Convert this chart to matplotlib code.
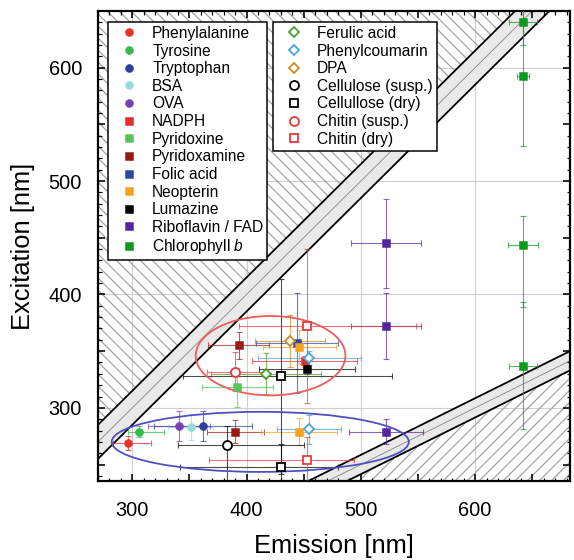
import matplotlib.pyplot as plt
import numpy as np
from matplotlib.lines import Line2D
from matplotlib.patches import Ellipse
from matplotlib.ticker import MultipleLocator, FuncFormatter

plt.rcParams['font.family'] = ['Liberation Sans', 'DejaVu Sans']
plt.rcParams['mathtext.fontset'] = 'custom'
plt.rcParams['mathtext.rm'] = 'Liberation Sans'
plt.rcParams['mathtext.it'] = 'Liberation Sans:italic'
plt.rcParams['hatch.color'] = '#a6a6a6'
plt.rcParams['hatch.linewidth'] = 1.3

# emission / excitation maxima [nm], error bars as (lower, upper)
phe_em = [296]
phe_ex = [269]
phe_dem = [(13, 20)]
phe_dex = [(6, 6)]

tyr_em = [306]
tyr_ex = [279]
tyr_dem = [(10, 22)]
tyr_dex = [(5, 5)]

trp_em = [362]
trp_ex = [284]
trp_dem = [(43, 43)]
trp_dex = [(13, 13)]

bsa_em = [351]
bsa_ex = [283]
bsa_dem = [(20, 20)]
bsa_dex = [(11, 11)]

ova_em = [341]
ova_ex = [284]
ova_dem = [(27, 27)]
ova_dex = [(13, 13)]

nadph_em = [451]
nadph_ex = [341]
nadph_dem = [(46, 46)]
nadph_dex = [(5, 5)]

pyrdx_em = [392]
pyrdx_ex = [318]
pyrdx_dem = [(31, 31)]
pyrdx_dex = [(17, 17)]

pyram_em = [393, 390]
pyram_ex = [355, 279]
pyram_dem = [(27, 27), (25, 25)]
pyram_dex = [(12, 12), (10, 10)]

folic_em = [444]
folic_ex = [357]
folic_dem = [(36, 36)]
folic_dex = [(44, 44)]

neo_em = [446, 446]
neo_ex = [354, 279]
neo_dem = [(32, 32), (33, 33)]
neo_dex = [(15, 15), (12, 12)]

lum_em = [453]
lum_ex = [334]
lum_dem = [(42, 42)]
lum_dex = [(4, 4)]

ribo_em = [522, 522, 522]
ribo_ex = [445, 372, 279]
ribo_dem = [(31, 31), (31, 31), (32, 32)]
ribo_dex = [(39, 39), (29, 29), (11, 11)]

chl_em = [642, 642, 642, 642]
chl_ex = [640, 593, 444, 337]
chl_dem = [(12, 12), (5, 5), (13, 13), (12, 12)]
chl_dex = [(20, 20), (62, 62), (55, 25), (56, 56)]

fer_em = [417]
fer_ex = [330]
fer_dem = [(48, 48)]
fer_dex = [(18, 18)]

pcou_em = [455, 455]
pcou_ex = [344, 281]
pcou_dem = [(45, 45), (28, 28)]
pcou_dex = [(6, 6), (13, 13)]

dpa_em = [438]
dpa_ex = [359]
dpa_dem = [(31, 31)]
dpa_dex = [(23, 23)]

cels_em = [383]
cels_ex = [267]
cels_dem = [(43, 67)]
cels_dex = [(35, 17)]

celd_em = [430, 430]
celd_ex = [328, 248]
celd_dem = [(86, 97), (88, 50)]
celd_dex = [(86, 86), (20, 20)]

chis_em = [390]
chis_ex = [332]
chis_dem = [(25, 25)]
chis_dex = [(17, 17)]

chid_em = [453, 453]
chid_ex = [372, 254]
chid_dem = [(60, 95), (86, 41)]
chid_dex = [(68, 68), (20, 20)]

# scattering bands: ex = em +- 15 and ex = em/2 +- 8.5
rs1_half = 15
rs2_half = 8.5

# grouping ellipses (center em, center ex, width, height)
red_ell = (421, 346, 131, 70)
blue_ell = (412, 270, 260, 53)

xlim = (270, 683)
ylim = (235.5, 650)

# label, em, ex, dem, dex, marker, color, filled, size
series = [
    ('Phenylalanine', phe_em, phe_ex, phe_dem, phe_dex, 'o', '#e8312b', True, 8),
    ('Tyrosine', tyr_em, tyr_ex, tyr_dem, tyr_dex, 'o', '#35b94a', True, 8),
    ('Tryptophan', trp_em, trp_ex, trp_dem, trp_dex, 'o', '#2b3f9e', True, 8),
    ('BSA', bsa_em, bsa_ex, bsa_dem, bsa_dex, 'o', '#93dcdc', True, 8),
    ('OVA', ova_em, ova_ex, ova_dem, ova_dex, 'o', '#7440b5', True, 8),
    ('NADPH', nadph_em, nadph_ex, nadph_dem, nadph_dex, 's', '#e2302a', True, 7.5),
    ('Pyridoxine', pyrdx_em, pyrdx_ex, pyrdx_dem, pyrdx_dex, 's', '#58c458', True, 7.5),
    ('Pyridoxamine', pyram_em, pyram_ex, pyram_dem, pyram_dex, 's', '#981b13', True, 7.5),
    ('Folic acid', folic_em, folic_ex, folic_dem, folic_dex, 's', '#2a47a6', True, 7.5),
    ('Neopterin', neo_em, neo_ex, neo_dem, neo_dex, 's', '#f6a31c', True, 7.5),
    ('Lumazine', lum_em, lum_ex, lum_dem, lum_dex, 's', '#000000', True, 7.5),
    ('Riboflavin / FAD', ribo_em, ribo_ex, ribo_dem, ribo_dex, 's', '#5425a0', True, 7.5),
    ('Chlorophyll $\\it{b}$', chl_em, chl_ex, chl_dem, chl_dex, 's', '#0c9a1c', True, 7.5),
    ('Ferulic acid', fer_em, fer_ex, fer_dem, fer_dex, 'D', '#4c9c2a', False, 7.5),
    ('Phenylcoumarin', pcou_em, pcou_ex, pcou_dem, pcou_dex, 'D', '#4aa2e2', False, 7.5),
    ('DPA', dpa_em, dpa_ex, dpa_dem, dpa_dex, 'D', '#cc8b1c', False, 7.5),
    ('Cellulose (susp.)', cels_em, cels_ex, cels_dem, cels_dex, 'o', '#000000', False, 9),
    ('Cellullose (dry)', celd_em, celd_ex, celd_dem, celd_dex, 's', '#000000', False, 8.5),
    ('Chitin (susp.)', chis_em, chis_ex, chis_dem, chis_dex, 'o', '#e8393a', False, 9),
    ('Chitin (dry)', chid_em, chid_ex, chid_dem, chid_dex, 's', '#e8393a', False, 8.5),
]

fig = plt.figure(figsize=(574 / 72, 560 / 72), dpi=72)
ax = fig.add_axes([0.1707, 0.1411, 0.8223, 0.8393])

# grid
for v in np.arange(300, 700, 100):
    ax.axvline(v, color='#cfcfcf', lw=1.1, zorder=0.5)
    ax.axhline(v, color='#cfcfcf', lw=1.1, zorder=0.5)

# scattering bands and excluded regions
em_grid = np.linspace(xlim[0] - 20, xlim[1] + 20, 300)
ax.fill_between(em_grid, em_grid - rs1_half, em_grid + rs1_half, color='#e9e9e9', lw=0, zorder=1)
ax.fill_between(em_grid, em_grid + rs1_half, 800, facecolor='none', edgecolor='#a6a6a6',
                hatch='\\\\', lw=0, zorder=1)
ax.plot(em_grid, em_grid, color='#8c8c8c', lw=0.9, zorder=1.2)
ax.plot(em_grid, em_grid - rs1_half, color='black', lw=1.8, zorder=1.3)
ax.plot(em_grid, em_grid + rs1_half, color='black', lw=1.8, zorder=1.3)

ax.fill_between(em_grid, em_grid / 2 - rs2_half, em_grid / 2 + rs2_half, color='#e9e9e9', lw=0, zorder=1)
ax.fill_between(em_grid, 100, em_grid / 2 - rs2_half, facecolor='none', edgecolor='#a6a6a6',
                hatch='//', lw=0, zorder=1)
ax.plot(em_grid, em_grid / 2, color='#8c8c8c', lw=0.9, zorder=1.2)
ax.plot(em_grid, em_grid / 2 - rs2_half, color='black', lw=1.8, zorder=1.3)
ax.plot(em_grid, em_grid / 2 + rs2_half, color='black', lw=1.8, zorder=1.3)

# error bars first, markers on top
for label, em, ex, dem, dex, mk, col, filled, ms in series:
    ax.errorbar(em, ex, xerr=np.array(dem).T, yerr=np.array(dex).T, fmt='none',
                ecolor=col, elinewidth=1.1, capsize=3, capthick=1.1, alpha=0.7, zorder=3)

ax.add_patch(Ellipse(red_ell[:2], red_ell[2], red_ell[3], fill=False, edgecolor='#ef5a5a', lw=1.8, zorder=4))
ax.add_patch(Ellipse(blue_ell[:2], blue_ell[2], blue_ell[3], fill=False, edgecolor='#4f4fbf', lw=1.8, zorder=4))

handles = []
for label, em, ex, dem, dex, mk, col, filled, ms in series:
    if filled:
        style = dict(marker=mk, markersize=ms, markerfacecolor=col, markeredgecolor=col, markeredgewidth=0.5)
    else:
        style = dict(marker=mk, markersize=ms, markerfacecolor='white', markeredgecolor=col, markeredgewidth=1.8)
    ax.plot(em, ex, linestyle='none', zorder=5, **style)
    handles.append(Line2D([], [], linestyle='none', label=label, **style))

ax.set_xlim(*xlim)
ax.set_ylim(*ylim)

hundreds = FuncFormatter(lambda v, pos: '%d' % v if abs(v % 100) < 1e-6 else '')
for axis in (ax.xaxis, ax.yaxis):
    axis.set_major_locator(MultipleLocator(50))
    axis.set_minor_locator(MultipleLocator(10))
    axis.set_major_formatter(hundreds)

ax.tick_params(which='both', direction='in', top=True, right=True, labelsize=20)
ax.tick_params(which='major', length=7, width=1.6)
ax.tick_params(which='minor', length=3.5, width=1.2)
ax.tick_params(axis='x', pad=20)
ax.tick_params(axis='y', pad=16)
for sp in ax.spines.values():
    sp.set_linewidth(2.2)

ax.set_xlabel('Emission [nm]', fontsize=25.5, labelpad=14)
ax.set_ylabel('Excitation [nm]', fontsize=25.5, labelpad=13)

leg_style = dict(fontsize=15.5, frameon=True, fancybox=False, framealpha=1, edgecolor='black',
                 borderpad=0.25, labelspacing=0.17, handlelength=2.2, handletextpad=0.4,
                 borderaxespad=0, loc='upper left')
leg1 = fig.legend(handles=handles[:13], bbox_to_anchor=(108 / 574, 1 - 22 / 560), **leg_style)
leg2 = fig.legend(handles=handles[13:], bbox_to_anchor=(273 / 574, 1 - 22 / 560), **leg_style)
for leg in (leg1, leg2):
    leg.get_frame().set_linewidth(1.5)

fig.savefig('out.png', dpi=72)
